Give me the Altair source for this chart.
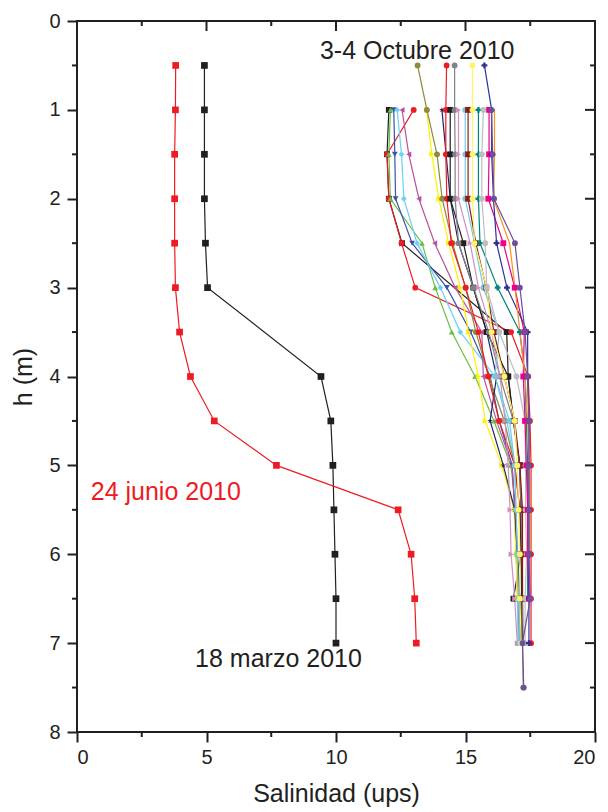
import altair as alt
import pandas as pd

# ---------------- data ----------------
# 18 marzo 2010 (black squares)
h_marzo = [0.5, 1.0, 1.5, 2.0, 2.5, 3.0, 4.0, 4.5, 5.0, 5.5, 6.0, 6.5, 7.0]
s_marzo = [4.92, 4.92, 4.92, 4.92, 4.96, 5.04, 9.42, 9.80, 9.88, 9.92, 9.96, 10.00, 10.00]

# 24 junio 2010 (red squares)
h_junio = [0.5, 1.0, 1.5, 2.0, 2.5, 3.0, 3.5, 4.0, 4.5, 5.0, 5.5, 6.0, 6.5, 7.0]
s_junio = [3.81, 3.80, 3.77, 3.77, 3.77, 3.80, 3.96, 4.38, 5.30, 7.70, 12.40, 12.90, 13.04, 13.10]

# 3-4 Octubre 2010 profiles
oct_names = ["o01", "o02", "o03", "o04", "o05", "o06", "o07", "o08", "o09", "o10", "o11",
             "o12", "o13", "o14", "o15", "o16", "o17", "o18", "o19", "o20", "o21", "o22"]
oct_h = [
    [1, 1.5, 2, 2.5, 3.5, 4, 4.5, 5, 5.5, 6, 6.5],
    [1, 1.5, 2, 2.5, 3, 3.5, 4, 4.5, 5, 5.5, 6, 6.5, 7],
    [1, 1.5, 2, 2.5, 3, 3.5, 4, 4.5, 5, 5.5, 6, 6.5, 7],
    [1, 1.5, 2, 2.5, 3, 3.5, 4, 4.5, 5, 5.5, 6, 6.5, 7],
    [1, 1.5, 2, 2.5, 3, 3.5, 4, 4.5, 5, 5.5, 6, 6.5, 7],
    [1, 1.5, 2, 2.5, 3, 3.5, 4, 4.5, 5, 5.5, 6, 6.5, 7],
    [1, 1.5, 2, 2.5, 3, 3.5, 4, 4.5, 5, 5.5, 6, 6.5],
    [0.5, 1, 1.5, 2, 2.5, 3, 3.5, 4, 4.5, 5, 5.5, 6, 6.5, 7, 7.5],
    [1, 1.5, 2, 2.5, 3, 3.5, 4, 4.5, 5, 5.5, 6, 6.5, 7],
    [0.5, 1, 1.5, 2, 2.5, 3, 3.5, 4, 4.5, 5, 5.5, 6, 6.5, 7],
    [1, 1.5, 2, 2.5, 3, 3.5, 4, 4.5, 5, 5.5, 6, 6.5, 7],
    [0.5, 1, 1.5, 2, 2.5, 3, 3.5, 4, 4.5, 5, 5.5, 6, 6.5, 7],
    [1, 1.5, 2, 2.5, 3, 3.5, 4, 4.5, 5, 5.5, 6, 6.5, 7],
    [1, 1.5, 2, 2.5, 3, 3.5, 4, 4.5, 5, 5.5, 6, 6.5, 7],
    [1, 1.5, 2, 2.5, 3, 3.5, 4, 4.5, 5, 5.5, 6, 6.5],
    [0.5, 1, 1.5, 2, 2.5, 3, 3.5, 4, 4.5, 5, 5.5, 6, 6.5, 7],
    [1, 1.5, 2, 2.5, 3, 3.5, 4, 4.5, 5, 5.5, 6, 6.5],
    [1, 1.5, 2, 2.5, 3, 3.5, 4, 4.5, 5, 5.5, 6, 6.5, 7],
    [1, 1.5, 2, 2.5, 3, 3.5, 4, 4.5, 5, 5.5, 6, 6.5],
    [0.5, 1, 1.5, 2, 2.5, 3, 3.5, 4, 4.5, 5, 5.5, 6, 6.5, 7],
    [1, 1.5, 2, 2.5, 3, 3.5, 4, 4.5, 5, 5.5, 6],
    [1, 1.5, 2, 2.5, 3, 3.5, 4, 4.5, 5, 5.5, 6, 6.5, 7, 7.5],
]
oct_s = [
    [12.04, 11.97, 12.04, 12.55, 16.59, 16.65, 16.85, 17.10, 17.14, 17.14, 16.85],
    [13.00, 11.97, 12.04, 12.53, 13.06, 16.76, 17.42, 17.49, 17.53, 17.53, 17.53, 17.53, 17.53],
    [12.10, 12.04, 12.10, 13.32, 13.83, 14.47, 15.37, 16.10, 16.75, 16.95, 17.00, 17.04, 17.04],
    [12.23, 12.27, 12.30, 12.94, 14.28, 15.20, 15.95, 16.30, 16.80, 16.90, 17.00, 17.10, 17.17],
    [12.36, 12.53, 12.62, 13.13, 14.03, 14.80, 16.14, 16.60, 16.90, 16.95, 17.00, 17.00, 17.04],
    [12.55, 12.81, 13.20, 13.81, 14.60, 15.63, 15.69, 16.20, 16.80, 16.90, 16.95, 17.04, 17.10],
    [13.50, 13.70, 13.97, 14.35, 14.80, 15.12, 15.50, 15.76, 16.40, 16.88, 16.95, 17.00],
    [13.15, 13.51, 13.90, 14.10, 14.50, 15.00, 15.40, 15.90, 16.50, 16.90, 17.10, 17.15, 17.20, 17.20, 17.23],
    [14.09, 14.25, 14.41, 14.73, 15.30, 15.82, 16.20, 15.95, 16.46, 16.90, 17.00, 17.10, 17.15],
    [14.27, 14.24, 14.24, 14.28, 14.45, 15.01, 15.50, 15.88, 16.30, 16.90, 17.10, 17.15, 17.20, 17.20],
    [14.41, 14.41, 14.41, 14.92, 15.30, 15.82, 16.65, 16.85, 17.10, 17.14, 17.14, 17.17, 17.20],
    [14.58, 14.58, 14.60, 14.60, 14.73, 15.31, 15.90, 16.33, 16.85, 17.10, 17.15, 17.20, 17.20, 17.23],
    [14.73, 14.73, 14.73, 15.18, 15.50, 16.01, 16.33, 16.53, 16.65, 16.72, 16.76, 16.90, 17.00],
    [14.99, 14.99, 14.99, 15.35, 15.69, 16.30, 16.14, 16.70, 16.90, 16.95, 17.00, 17.05, 17.10],
    [15.10, 15.10, 15.10, 15.40, 15.80, 16.10, 16.50, 16.90, 17.10, 17.20, 17.20, 17.20],
    [15.27, 15.27, 15.27, 15.27, 15.35, 15.82, 16.01, 16.50, 16.90, 17.00, 17.05, 17.10, 17.10, 17.15],
    [15.50, 15.50, 15.50, 15.56, 16.24, 17.10, 17.30, 17.35, 17.40, 17.40, 17.40, 17.40],
    [15.69, 15.63, 15.63, 15.76, 15.82, 16.30, 16.97, 17.30, 17.32, 17.32, 17.36, 17.30, 17.30],
    [15.91, 15.91, 15.88, 16.46, 16.90, 17.27, 17.23, 17.30, 17.35, 17.40, 17.40, 17.45],
    [15.73, 16.01, 16.01, 16.08, 16.20, 16.60, 17.40, 17.40, 17.45, 17.45, 17.45, 17.45, 17.45, 17.45],
    [16.12, 16.12, 16.08, 16.70, 16.91, 17.10, 17.30, 17.40, 17.45, 17.50, 17.50],
    [16.00, 16.05, 16.10, 16.91, 17.10, 17.30, 17.40, 17.45, 17.45, 17.45, 17.45, 17.50, 17.20, 17.25],
]

# annotation texts
ann_text = ["3-4 Octubre 2010", "24 junio 2010", "18 marzo 2010"]
ann_x = [9.38, 0.53, 4.56]
ann_h = [0.34, 5.30, 7.18]
ann_color = ["#231f20", "#ed1c24", "#231f20"]

# ticks
x_major = [0, 5, 10, 15, 20]
x_minor = [2.5, 7.5, 12.5, 17.5]
y_major = [0, 1, 2, 3, 4, 5, 6, 7, 8]
y_minor = [0.5, 1.5, 2.5, 3.5, 4.5, 5.5, 6.5, 7.5]

# ---------------- styles ----------------
INK = "#231f20"
STAR = "M0,-1L0.22,-0.31L0.95,-0.31L0.36,0.12L0.59,0.81L0,0.38L-0.59,0.81L-0.36,0.12L-0.95,-0.31L-0.22,-0.31Z"
oct_colors = ["#231f20", "#ed1c24", "#6abd45", "#3953a4", "#6dcff6", "#b9529f", "#fff200",
              "#8c8a3c", "#262262", "#ed1c24", "#231f20", "#808285", "#d08fbf", "#74c9e0",
              "#8b1a1a", "#fff568", "#00827f", "#bcbec0", "#ec008c", "#2e3192", "#f7941d", "#6f4e9e"]
oct_shapes = ["square", "circle", "triangle-up", "triangle-down", "diamond", "triangle-left",
              "triangle-right", "circle", STAR, "circle", "square", "circle", "triangle-right",
              "circle", "square", "circle", "cross", "circle", "square", "cross", "stroke", "circle"]

W, H = 518, 711
FONT = "Liberation Sans"

# ---------------- frames ----------------
main_df = pd.DataFrame(
    {"series": ["marzo"] * len(h_marzo) + ["junio"] * len(h_junio),
     "h": h_marzo + h_junio,
     "s": s_marzo + s_junio}
)
rows = []
for name, hs, ss in zip(oct_names, oct_h, oct_s):
    for hv, sv in zip(hs, ss):
        rows.append({"series": name, "h": hv, "s": sv})
oct_df = pd.DataFrame(rows)

xs = alt.Scale(domain=[0, 20], nice=False, zero=False)
ys = alt.Scale(domain=[0, 8], reverse=True, nice=False, zero=False)

x_enc = alt.X("s:Q", scale=xs, axis=alt.Axis(
    values=x_major, format="d", tickSize=10, tickWidth=2, tickColor=INK, domain=False, grid=False,
    labelFontSize=20, labelColor=INK, labelFont=FONT, labelPadding=5,
    title="Salinidad (ups)", titleFontSize=25, titleFont=FONT, titleFontWeight="normal",
    titleColor=INK, titlePadding=14))
y_enc = alt.Y("h:Q", scale=ys, axis=alt.Axis(
    values=y_major, format="d", tickSize=10, tickWidth=2, tickColor=INK, domain=False, grid=False,
    labelFontSize=20, labelColor=INK, labelFont=FONT, labelPadding=7,
    title="h (m)", titleFontSize=25, titleFont=FONT, titleFontWeight="normal",
    titleColor=INK, titlePadding=12))

oct_color = alt.Color("series:N", scale=alt.Scale(domain=oct_names, range=oct_colors), legend=None)
oct_shape = alt.Shape("series:N", scale=alt.Scale(domain=oct_names, range=oct_shapes), legend=None)

oct_lines = alt.Chart(oct_df).mark_line(strokeWidth=1.2).encode(
    x=x_enc, y=y_enc, color=oct_color, order="h:Q")
oct_pts = alt.Chart(oct_df).mark_point(filled=True, size=34, opacity=1).encode(
    x="s:Q", y="h:Q", color=oct_color, shape=oct_shape)

main_color = alt.Color("series:N", scale=alt.Scale(domain=["marzo", "junio"], range=[INK, "#ed1c24"]), legend=None)
main_lines = alt.Chart(main_df).mark_line(strokeWidth=1.2).encode(
    x="s:Q", y="h:Q", color=main_color, order="h:Q")
main_pts = alt.Chart(main_df).mark_point(filled=True, shape="square", size=45, opacity=1).encode(
    x="s:Q", y="h:Q", color=main_color)

ann_df = pd.DataFrame({"t": ann_text, "s": ann_x, "h": ann_h, "c": ann_color})
ann = alt.Chart(ann_df).mark_text(align="left", baseline="middle", fontSize=25, font=FONT).encode(
    x="s:Q", y="h:Q", text="t:N", color=alt.Color("c:N", scale=None))

# extra ticks (minor and mirrored)
xmaj_df = pd.DataFrame({"v": x_major})
xmin_df = pd.DataFrame({"v": x_minor})
ymaj_df = pd.DataFrame({"v": y_major})
ymin_df = pd.DataFrame({"v": y_minor})
tk = dict(color=INK, strokeWidth=2)
top_major = alt.Chart(xmaj_df).mark_rule(**tk).encode(x=alt.X("v:Q", scale=xs), y=alt.value(0), y2=alt.value(10))
top_minor = alt.Chart(xmin_df).mark_rule(**tk).encode(x=alt.X("v:Q", scale=xs), y=alt.value(0), y2=alt.value(5))
bot_minor = alt.Chart(xmin_df).mark_rule(**tk).encode(x=alt.X("v:Q", scale=xs), y=alt.value(H), y2=alt.value(H + 5))
left_minor = alt.Chart(ymin_df).mark_rule(**tk).encode(y=alt.Y("v:Q", scale=ys), x=alt.value(-5), x2=alt.value(0))
right_major = alt.Chart(ymaj_df).mark_rule(**tk).encode(y=alt.Y("v:Q", scale=ys), x=alt.value(W - 10), x2=alt.value(W))
right_minor = alt.Chart(ymin_df).mark_rule(**tk).encode(y=alt.Y("v:Q", scale=ys), x=alt.value(W - 5), x2=alt.value(W))

chart = alt.layer(
    oct_lines, oct_pts, main_lines, main_pts, ann,
    top_major, top_minor, bot_minor, left_minor, right_major, right_minor
).resolve_scale(color="independent").properties(
    width=W, height=H,
    autosize=alt.AutoSizeParams(type="none"),
    padding={"left": 77, "top": 21, "right": 13, "bottom": 80},
    background="white",
).configure_view(stroke=INK, strokeWidth=2)

chart.save("out.html", embed_options={"renderer": "svg", "actions": False})
